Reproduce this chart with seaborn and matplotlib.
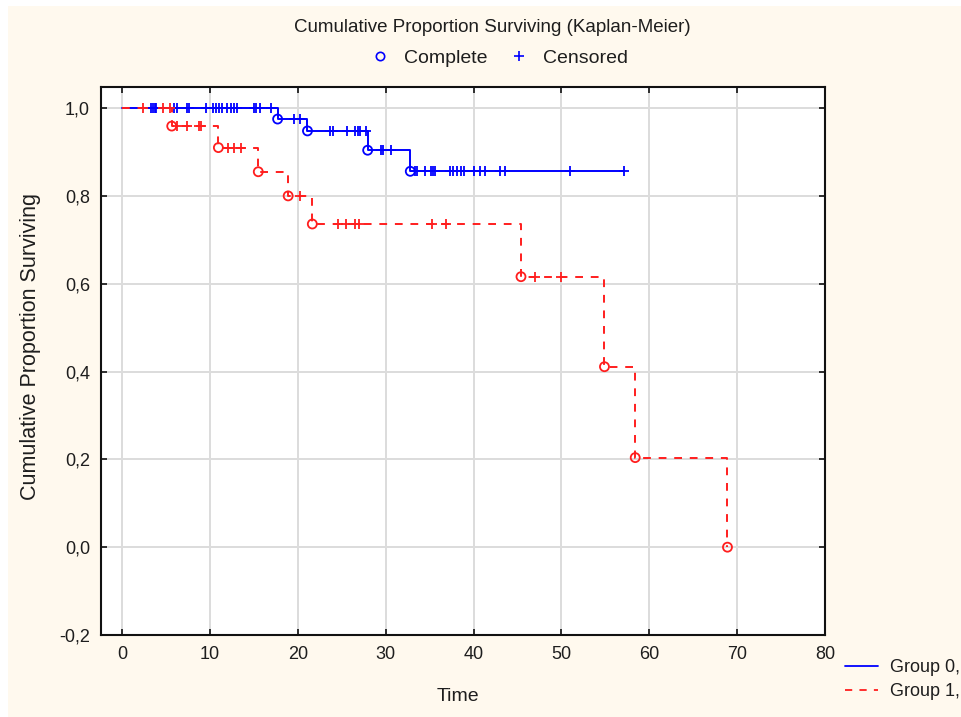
import matplotlib
matplotlib.use("Agg")
import matplotlib.pyplot as plt
from matplotlib import font_manager
from matplotlib.lines import Line2D
from matplotlib.patches import Rectangle
import pandas as pd
import seaborn as sns

# ---- data -------------------------------------------------------------
group_names = ["Group 0,", "Group 1,"]

# Group 0: event (complete) times and Kaplan-Meier survival right after each event
g0_event_times = [17.7, 21.1, 27.95, 32.8]
g0_event_surv = [0.975, 0.948, 0.904, 0.856]
g0_censored = [3.3, 3.5, 3.7, 3.9, 5.9, 6.3, 7.4, 7.6, 9.6, 10.4, 10.7, 11.0,
               11.4, 11.9, 12.4, 12.7, 13.1, 15.0, 15.2, 15.7, 17.0, 19.6,
               20.2, 23.7, 24.0, 25.6, 26.5, 26.8, 27.1, 27.8, 29.5, 29.7,
               30.6, 33.3, 33.6, 34.5, 35.2, 35.4, 35.6, 37.3, 37.7, 38.1,
               38.6, 38.9, 40.0, 40.7, 41.3, 43.0, 43.6, 51.0, 57.1]

# Group 1
g1_event_times = [5.65, 10.96, 15.5, 18.9, 21.65, 45.4, 54.9, 58.4, 68.9]
g1_event_surv = [0.959, 0.910, 0.855, 0.800, 0.736, 0.616, 0.411, 0.204, 0.0]
g1_censored = [2.35, 4.7, 5.5, 6.2, 7.4, 8.7, 8.95, 12.0, 12.7, 13.5, 20.25,
               24.6, 25.5, 26.5, 27.0, 35.3, 36.9, 47.0, 49.9]

x_ticks = [0, 10, 20, 30, 40, 50, 60, 70, 80]
y_ticks = [-0.2, 0.0, 0.2, 0.4, 0.6, 0.8, 1.0]
y_tick_labels = ["-0,2", "0,0", "0,2", "0,4", "0,6", "0,8", "1,0"]

title_text = "Cumulative Proportion Surviving (Kaplan-Meier)"
x_label = "Time"
y_label = "Cumulative Proportion Surviving"

# ---- style ------------------------------------------------------------
sns.set_theme(style="white")
names = {f.name for f in font_manager.fontManager.ttflist}
base_font = "Liberation Sans" if "Liberation Sans" in names else "DejaVu Sans"
plt.rcParams["font.family"] = [base_font, "DejaVu Sans"]

BLUE = "#0000FF"
RED = "#FF1E1E"
TEXT = "#1E1E1E"
CREAM = "#FFF9EE"
colors = {group_names[0]: BLUE, group_names[1]: RED}


def step_curve(event_times, event_surv, censored):
    t = [0.0] + list(event_times)
    s = [1.0] + list(event_surv)
    last = max(list(censored) + list(event_times))
    if last > t[-1]:
        t.append(last)
        s.append(s[-1])
    return t, s


def level_at(times, event_times, event_surv):
    out = []
    for c in times:
        v = 1.0
        for et, sv in zip(event_times, event_surv):
            if et <= c:
                v = sv
        out.append(v)
    return out


rows = []
events = []
cens = []
for name, et, es, ce in [(group_names[0], g0_event_times, g0_event_surv, g0_censored),
                         (group_names[1], g1_event_times, g1_event_surv, g1_censored)]:
    t, s = step_curve(et, es, ce)
    rows += [dict(time=a, surv=b, group=name) for a, b in zip(t, s)]
    events += [dict(time=a, surv=b, group=name) for a, b in zip(et, es)]
    cens += [dict(time=a, surv=b, group=name)
             for a, b in zip(ce, level_at(ce, et, es))]
curve_df = pd.DataFrame(rows)
event_df = pd.DataFrame(events)
cens_df = pd.DataFrame(cens)

W, H = 961, 717
fig = plt.figure(figsize=(W / 100, H / 100), dpi=100)
fig.patch.set_facecolor(CREAM)
# thin white margin on the left and top edge
fig.add_artist(Rectangle((0, 0), 8 / W, 1, transform=fig.transFigure,
                         facecolor="white", edgecolor="none", zorder=0))
fig.add_artist(Rectangle((0, 1 - 6 / H), 1, 6 / H, transform=fig.transFigure,
                         facecolor="white", edgecolor="none", zorder=0))

ax = fig.add_axes([101 / W, (H - 635) / H, (825 - 101) / W, (635 - 87) / H])
ax.set_facecolor("white")

sns.lineplot(data=curve_df, x="time", y="surv", hue="group", style="group",
             hue_order=group_names, style_order=group_names,
             palette=colors, dashes={group_names[0]: "", group_names[1]: (4, 4)},
             drawstyle="steps-post", estimator=None, sort=False,
             linewidth=1.4, legend=False, ax=ax, zorder=3)

for name in group_names:
    c = colors[name]
    sub_c = cens_df[cens_df.group == name]
    sns.scatterplot(data=sub_c, x="time", y="surv", marker="+", color=c,
                    s=60, linewidth=1.3, ax=ax, legend=False, zorder=4)
    sub_e = event_df[event_df.group == name]
    sns.scatterplot(data=sub_e, x="time", y="surv", marker="o",
                    facecolors="none", edgecolor=c, s=42, linewidth=1.3,
                    ax=ax, legend=False, zorder=5)

ax.set_xlim(-2.4, 80)
ax.set_ylim(-0.2, 1.048)
ax.set_xticks(x_ticks)
ax.set_xticklabels([str(v) for v in x_ticks])
ax.set_yticks(y_ticks)
ax.set_yticklabels(y_tick_labels)
ax.grid(True, color="#DCDCDC", linewidth=1.4)
ax.set_axisbelow(True)
for sp in ax.spines.values():
    sp.set_color("#111111")
    sp.set_linewidth(1.5)
    sp.set_visible(True)
ax.tick_params(direction="in", length=4, width=1.2, top=True, right=True,
               bottom=True, left=True, labelsize=13, labelcolor=TEXT,
               color="#111111", pad=8)

ax.set_xlabel(x_label, fontsize=14, color=TEXT)
ax.set_ylabel(y_label, fontsize=15.5, color=TEXT)
ax.xaxis.set_label_coords((458 - 101) / 724, (635 - 688) / 548)
ax.yaxis.set_label_coords((41 - 101) / 724, (635 - 347) / 548)

fig.text(492 / W, 1 - 28 / H, title_text, ha="center", va="center",
         fontsize=13.5, color=TEXT)

# marker key above the plot
key_handles = [
    Line2D([], [], linestyle="none", marker="o", markerfacecolor="none",
           markeredgecolor=BLUE, markersize=6, markeredgewidth=1.2),
    Line2D([], [], linestyle="none", marker="+", color=BLUE,
           markersize=7, markeredgewidth=1.2),
]
fig.legend(key_handles, ["Complete", "Censored"], ncol=2, loc="center",
           bbox_to_anchor=(499 / W, 1 - 58 / H), frameon=False,
           fontsize=14, handlelength=1.0, handletextpad=0.75,
           columnspacing=1.1, borderpad=0, borderaxespad=0,
           labelcolor=TEXT)

# group key, lower right
group_handles = [
    Line2D([], [], color=BLUE, linewidth=1.3),
    Line2D([], [], color=RED, linewidth=1.3, dashes=(4, 4)),
]
fig.legend(group_handles, group_names, loc="upper left",
           bbox_to_anchor=(845 / W, 1 - 659 / H), frameon=False,
           fontsize=13, handlelength=1.8, handletextpad=0.7,
           labelspacing=0.4, borderpad=0, borderaxespad=0,
           labelcolor=TEXT)

fig.savefig("out.png", dpi=100, facecolor=fig.get_facecolor())
